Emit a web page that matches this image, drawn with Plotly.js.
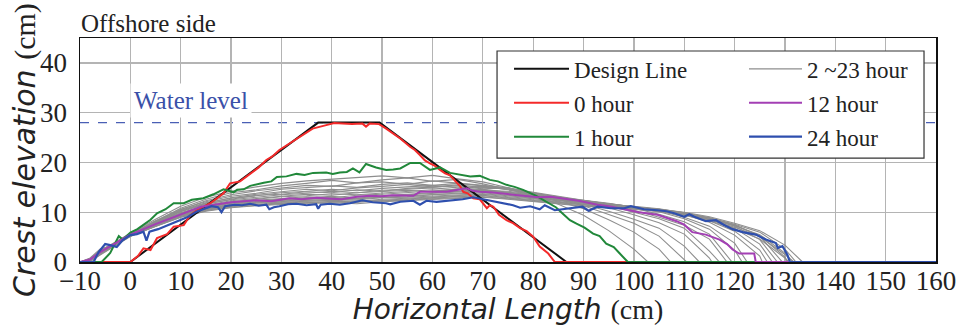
<!DOCTYPE html>
<html>
<head>
<meta charset="utf-8">
<script src="https://cdn.plot.ly/plotly-3.0.1.min.js"></script>
<style>html,body{margin:0;padding:0;background:#fff;}#chart{width:961px;height:326px;}</style>
</head>
<body>
<div id="chart"></div>
<script>
// ---------------- DATA ----------------
const WATER_LEVEL = 28;
const X_RANGE = [-10, 160];
const Y_RANGE = [0, 45];

const designX = [-10, 0, 37.3, 49.5, 86.6, 160];
const designY = [0, 0, 28, 28, 0, 0];

// 0 hour (x, y)
const hour0 = [[-10,0],[-6,0],[0,0],[1.5,1.2],[2.6,2.75],[4,2.4],[5.3,4.8],[7.3,5.6],[8.6,7.1],[10.6,7.4],[11.9,9.4],[13.2,10.4],[15.9,11.8],[18.5,13.8],[19.8,15.8],[21.8,16.2],[22.8,17.0],[24.4,18.1],[25.5,19.0],[27,20.5],[28.2,21.2],[29.6,22.5],[31.6,23.8],[33,24.6],[34.3,25.5],[35.2,26.2],[36.2,26.8],[38.9,27.5],[40.5,27.9],[42.2,27.8],[44,27.7],[46.1,27.8],[46.8,27.2],[47.5,27.8],[49.4,27.7],[50.8,26.8],[51.6,26.2],[53.6,24.8],[55.6,23.1],[56.5,22.5],[57.5,21.5],[58.5,20.4],[59.5,19.8],[60.5,19.3],[61.5,18.5],[62.5,17.8],[63.5,17.4],[64.8,15.9],[65.5,15.2],[66.1,14.1],[67,13.8],[68.1,12.8],[69.4,12.6],[70.8,10.8],[71.4,11.4],[72.1,11.1],[73.2,9.5],[74.7,8.4],[76,7.8],[77.4,6.8],[78.7,6.2],[80,5.1],[81.3,3.1],[83,1.7],[84.3,0],[160,0]];

// 1 hour
const hour1 = [[-10,0],[-5.7,0],[-4,1.8],[-2.3,5.2],[-1.5,4.5],[0,5.9],[1.4,6.6],[2.7,7.6],[4,8.5],[5.3,9.8],[7,10.6],[8.6,11.8],[10.6,11.8],[12.2,12.5],[14.5,12.8],[16.5,13.6],[18.5,14.6],[20.5,14],[21.2,14.5],[22.5,14.6],[23.8,15.3],[26.5,15.9],[28,16.2],[29.1,17.1],[31,17.2],[33,17.7],[34.6,17.5],[36.3,17.9],[38.9,18],[40.2,17.7],[41.6,18],[43,18.1],[44.2,18.8],[45.5,18],[46.8,19.7],[48.8,19],[50.8,18.5],[52.2,18.6],[53.6,18.8],[55.6,19.9],[57.5,19.9],[59.5,18.5],[61.5,19],[63.5,17.9],[65.5,17.5],[67.5,17.2],[69.4,17.3],[71.4,16.5],[73,16.2],[74.7,15.5],[76.3,15.1],[78,14.5],[80.6,13.3],[82.5,12.2],[84.5,11],[86,9.6],[87.3,8.4],[88.6,7.7],[90.2,6.9],[91.9,5.7],[93.2,5.2],[94.5,3.7],[96,3.0],[97.2,1.7],[98.8,0],[160,0]];

// 12 hour
const hour12 = [[-10,0],[-8,0.5],[-6,2.0],[-4,3.2],[-2,4.3],[0,5.5],[5,7.6],[10,9.6],[14,11.1],[20,12.0],[25,12.4],[28,12.2],[31.6,12.8],[34,12.6],[37,12.9],[40,12.7],[42,12.6],[45,13.1],[47.5,13.3],[50,13.2],[52,13.4],[56.2,13.3],[57.5,14.1],[59,14.1],[62.8,14.1],[64.5,14.4],[66.8,14.8],[68,14.3],[69.4,14.1],[71.5,14.0],[73.4,13.8],[77.4,13.5],[81,13.0],[83.5,13.1],[86,12.8],[89,12.3],[92.8,11.5],[95,11.2],[98.1,10.6],[101,10.0],[104.7,9.5],[107,8.7],[108.5,8.2],[110,7.5],[111.6,6],[114.3,5.5],[117,4.5],[118.5,3.6],[119.6,2.5],[120.9,1.7],[123.9,1.7],[124.2,0],[160,0]];

// 24 hour
const hour24 = [[-10,0],[-7.3,0],[-6.3,2],[-5,3.6],[-4,3.4],[-2.7,3],[-1.5,4.4],[0,5.4],[1.3,5.6],[2.6,6.1],[3.2,4.3],[3.8,6.1],[5.5,6.6],[6.9,7.2],[8.2,7.6],[9.5,8.3],[11.5,9.1],[13.1,10.1],[14.5,10.6],[16.1,11.2],[17.4,11.0],[18.1,10],[18.8,11.2],[20.7,11.5],[22.2,11.4],[23.8,11.7],[25.5,11.3],[27,11.5],[27.6,10.6],[28.5,11.0],[29.6,11.2],[31.3,11.6],[33,11.7],[35,11.4],[36.9,11.6],[37.3,10.7],[37.8,11.5],[39.6,11.7],[41.6,11.5],[43.6,11.8],[46.1,12.4],[48.1,12],[50.8,11.8],[51.6,11.6],[53.6,12.1],[56.2,12.3],[57.5,11.5],[58.8,12.3],[60.8,12.1],[62.8,12.3],[64.5,12.4],[66,12.6],[68.1,13],[70.1,12.6],[72.8,12],[74.5,11.8],[76,11.4],[77.4,10.9],[79.4,11.2],[81.3,10.6],[82.3,11.4],[84.3,10.4],[86,10.6],[87.8,10.8],[89.8,11.1],[91,10.3],[92.8,11.1],[95.4,10.8],[98.1,10.8],[99.4,11.2],[102,10.6],[104.7,10.4],[106.5,10.2],[108,9.8],[110,9.1],[111,9.6],[112,9.1],[114.3,8.2],[116.3,8.4],[118,7.4],[119.6,6.6],[121.6,6],[124.2,5.5],[126.2,4.5],[128.2,3.8],[128.6,2.8],[129.5,3.2],[130.5,1.4],[131,0],[160,0]];

// 2 ~ 23 hour profiles, read on a common x grid up to each profile's toe
const grayGrid = [-10,-8,-6,-4,-2,0,5,10,15,20,25,30,35,40,45,50,55,60,65,70,75,80,85,90,95,100,105,110,115,120,125,130];
const h02 = [0,0.4,2.2,3.4,4.6,5.8,8.6,11.2,13.0,14.2,15.1,15.8,16.3,16.6,16.9,17.3,16.9,17.4,16.7,16.1,14.9,13.5,11.6,9.4,6.3,2.6];
const h03 = [0,0.8,2.6,3.2,4.4,5.6,8.2,10.8,12.6,13.9,14.5,15.3,15.8,16.4,15.9,16.5,16.9,16.2,16.6,15.7,14.6,13.4,12.2,10.7,8.5,6.0,2.6];
const h04 = [0,0.2,1.8,3.0,4.2,5.5,8.0,10.5,12.3,13.5,14.3,14.8,15.4,15.2,15.9,16.1,15.6,16.3,15.9,15.4,14.9,13.8,12.6,11.3,9.6,7.8,5.2,0.6];
const h05 = [0,0.5,2.0,3.3,4.5,5.7,8.3,10.6,12.1,13.2,13.8,14.6,14.9,15.3,15.0,15.6,15.9,15.4,15.8,15.3,14.6,13.6,12.7,11.6,10.2,8.6,6.8,3.2];
const h06 = [0,0.3,1.6,2.8,4.0,5.3,7.8,10.2,11.8,12.9,13.6,14.1,14.6,14.3,14.9,15.2,15.6,15.1,15.5,15.0,14.7,13.9,12.9,12.0,10.9,9.5,7.9,5.6,0.8];
const h07 = [0,0.6,2.1,3.1,4.3,5.5,8.1,10.4,11.9,12.8,13.3,13.9,14.2,14.6,14.3,14.8,15.1,15.4,14.9,15.2,14.5,13.8,13.1,12.2,11.3,10.0,8.7,6.8,2.2];
const h08 = [0,0.2,1.7,2.9,4.1,5.4,7.9,10.1,11.6,12.6,13.4,13.6,14.1,13.9,14.5,14.2,14.8,15.0,15.3,14.7,14.9,14.0,13.2,12.4,11.6,10.4,9.0,7.4,4.6];
const h09 = [0,0.7,2.3,3.4,4.5,5.6,8.2,10.3,11.7,12.5,13.0,13.5,13.8,14.2,13.9,14.4,14.6,14.9,14.5,15.1,14.6,13.9,13.0,12.3,11.7,10.8,9.6,8.1,5.6];
const h10 = [0,0.4,1.9,3.0,4.2,5.5,7.9,9.9,11.4,12.3,12.8,13.2,13.6,13.4,13.9,14.1,14.4,14.1,14.7,14.4,14.2,13.6,13.0,12.5,11.8,11.0,10.1,8.7,6.6,2.4];
const h11 = [0,0.1,1.5,2.7,3.9,5.2,7.6,9.8,11.2,12.1,12.6,13.1,13.3,13.7,13.5,13.8,14.2,14.5,14.2,14.6,14.0,13.5,12.8,12.2,11.6,11.1,10.3,9.0,7.2,3.8];
const h13 = [0,0.5,2.0,3.1,4.2,5.4,7.7,9.6,11.0,11.9,12.4,12.8,13.1,12.9,13.4,13.6,13.9,14.2,14.6,14.3,14.0,13.4,12.7,12.3,11.7,11.2,10.5,9.5,8.0,5.4,1.2];
const h14 = [0,0.3,1.7,2.9,4.0,5.3,7.5,9.5,10.9,11.8,12.3,12.6,12.9,13.2,12.8,13.3,13.6,13.9,14.2,14.5,13.8,13.2,12.6,12.0,11.5,11.0,10.4,9.6,8.3,6.2,2.4];
const h15 = [0,0.6,2.2,3.2,4.3,5.5,7.7,9.7,11.0,11.8,12.2,12.5,12.8,12.6,13.1,13.2,13.5,13.8,14.0,14.3,13.9,13.3,12.5,12.1,11.7,11.1,10.6,9.8,8.6,6.8,3.6];
const h16 = [0,0.2,1.6,2.8,3.9,5.2,7.4,9.4,10.8,11.6,12.1,12.4,12.6,12.9,12.7,13.0,13.3,13.6,13.9,14.1,13.6,13.0,12.4,11.9,11.5,11.2,10.7,9.9,8.8,7.2,4.5];
const h17 = [0,0.4,1.9,3.0,4.1,5.3,7.5,9.4,10.7,11.5,12.0,12.3,12.5,12.4,12.8,13.0,13.1,13.5,13.7,13.9,13.4,12.9,12.3,11.8,11.4,11.0,10.6,9.9,8.9,7.5,5.2];
const h18 = [0,0.1,1.4,2.6,3.8,5.1,7.2,9.2,10.6,11.4,11.9,12.1,12.4,12.6,12.5,12.9,13.0,13.2,13.5,13.7,13.3,12.8,12.2,11.7,11.3,10.9,10.4,9.8,8.8,7.4,5.3,1.0];
const h19 = [0,0.5,2.0,3.1,4.2,5.4,7.4,9.3,10.6,11.3,11.8,12.0,12.2,12.4,12.2,12.6,12.8,13.1,13.3,13.6,13.1,12.7,12.1,11.6,11.2,10.9,10.5,9.7,8.6,7.3,5.5,1.8];
const h20 = [0,0.3,1.8,3.0,4.1,5.3,7.3,9.2,10.5,11.2,11.6,11.9,12.1,12.0,12.3,12.4,12.7,12.9,13.2,13.4,13.0,12.5,12.0,11.5,11.2,10.8,10.4,9.8,8.9,7.6,6.0,2.6];
const h21 = [0,0.6,2.1,3.2,4.3,5.5,7.4,9.2,10.4,11.1,11.5,11.8,11.9,12.2,12.0,12.3,12.5,12.8,13.1,13.3,12.8,12.4,11.9,11.5,11.1,10.9,10.6,10.0,9.1,7.8,6.3,3.4];
const h22 = [0,0.2,1.7,2.8,4.0,5.2,7.2,9.0,10.3,11.0,11.4,11.7,11.9,11.8,12.1,12.2,12.4,12.7,12.9,13.1,12.7,12.2,11.7,11.3,11.0,10.7,10.2,9.5,8.5,7.0,5.1,1.5];
const h23 = [0,0.4,1.8,2.9,4.1,5.3,7.2,9.0,10.2,10.9,11.3,11.6,11.8,11.9,11.7,12.1,12.3,12.6,12.8,13.0,12.6,12.1,11.6,11.2,10.9,10.6,10.1,9.4,8.3,6.7,4.6,0.8];
const grayToes = [102.8,107.3,110.5,113,115.5,117,118.5,119.5,121.5,122.5,125.5,126.5,127.5,128.5,129.5,130.5,131.5,132.2,133.5,131.8,130.8];
const grayProfiles = [h02,h03,h04,h05,h06,h07,h08,h09,h10,h11,h13,h14,h15,h16,h17,h18,h19,h20,h21,h22,h23];

// ---------------- STYLE ----------------
const SERIF = 'Liberation Serif';
const SANS = 'DejaVu Sans';
const C = {design:'#111111', h0:'#f42a2a', h1:'#21883a', gray:'#8e8e8e', h12:'#a33fb4', h24:'#2e4fae', water:'#4a5fb5'};

const traces = [];
grayProfiles.forEach((ys, i) => {
  const xs = grayGrid.slice(0, ys.length).concat([grayToes[i], X_RANGE[1]]);
  traces.push({
    x: xs, y: ys.concat([0, 0]), type: 'scatter', mode: 'lines',
    line: {color: C.gray, width: 1.1},
    name: '2 ~23 hour', legend: 'legend2', legendgroup: 'g', legendrank: 1,
    showlegend: i === 0, hoverinfo: 'skip'
  });
});
function pts(arr, k) { return arr.map(p => p[k]); }
traces.push({x: designX, y: designY, type:'scatter', mode:'lines', line:{color:C.design, width:2},
  name:'Design Line', legend:'legend', legendgroup:'d', legendrank:1});
traces.push({x: pts(hour0,0), y: pts(hour0,1), type:'scatter', mode:'lines', line:{color:C.h0, width:2},
  name:'0 hour', legend:'legend', legendgroup:'a', legendrank:2});
traces.push({x: pts(hour1,0), y: pts(hour1,1), type:'scatter', mode:'lines', line:{color:C.h1, width:2},
  name:'1 hour', legend:'legend', legendgroup:'b', legendrank:3});
traces.push({x: pts(hour12,0), y: pts(hour12,1), type:'scatter', mode:'lines', line:{color:C.h12, width:2},
  name:'12 hour', legend:'legend2', legendgroup:'m', legendrank:2});
traces.push({x: pts(hour24,0), y: pts(hour24,1), type:'scatter', mode:'lines', line:{color:C.h24, width:2.2},
  name:'24 hour', legend:'legend2', legendgroup:'bl', legendrank:3});

const legendCommon = {
  bgcolor:'rgba(0,0,0,0)', borderwidth:0, yanchor:'top', xanchor:'left',
  font:{family:SERIF, size:23, color:'#222'}, tracegroupgap:1, itemclick:false, itemdoubleclick:false
};

const layout = {
  width:961, height:326,
  margin:{l:80, r:25, t:38, b:64},
  paper_bgcolor:'#fff', plot_bgcolor:'#fff',
  showlegend:true,
  xaxis:{
    range:X_RANGE, dtick:10, tick0:0, showgrid:true, gridcolor:'#b4b4b4', gridwidth:1.3,
    showline:true, linecolor:'#111', linewidth:1.5, mirror:true, zeroline:false, ticks:'',
    ticklabelstandoff:-6,
    tickfont:{family:SERIF, size:27, color:'#222'},
    title:{text:'<i>Horizontal Length</i> <span style="font-family:Liberation Serif">(cm)</span>',
      font:{family:SANS, size:28, color:'#222'}, standoff:0}
  },
  yaxis:{
    range:Y_RANGE, dtick:10, tick0:0, showgrid:true, gridcolor:'#b4b4b4', gridwidth:1.3,
    showline:true, linecolor:'#111', linewidth:1.5, mirror:true, zeroline:false, ticks:'',
    ticklabelstandoff:6,
    tickfont:{family:SERIF, size:27, color:'#222'},
    title:{text:''}
  },
  legend: Object.assign({}, legendCommon, {x:0.5012, y:0.958, itemwidth:55}),
  legend2: Object.assign({}, legendCommon, {x:0.7757, y:0.958, itemwidth:53}),
  shapes:[
    {type:'line', xref:'x', yref:'y', x0:X_RANGE[0], x1:X_RANGE[1], y0:WATER_LEVEL, y1:WATER_LEVEL,
      line:{color:C.water, width:1.3, dash:'dash'}, layer:'below'},
    {type:'rect', xref:'paper', yref:'paper', x0:0.4872, x1:0.986, y0:0.464, y1:0.942,
      fillcolor:'#ffffff', line:{color:'#333', width:1.2}, layer:'above'}
  ],
  annotations:[
    {text:'<i>Crest elevation</i> <span style="font-family:Liberation Serif">(cm)</span>',
      xref:'paper', yref:'paper', x:-0.0655, y:0.5, xanchor:'center', yanchor:'middle', textangle:-90,
      showarrow:false, font:{family:SANS, size:30, color:'#222'}},
    {text:'Offshore side', xref:'paper', yref:'paper', x:0, y:1, xanchor:'left', yanchor:'bottom',
      showarrow:false, font:{family:SERIF, size:25, color:'#222'}, borderpad:0},
    {text:'Water level', xref:'x', yref:'y', x:12.1, y:32.5, xanchor:'center', yanchor:'middle',
      showarrow:false, bgcolor:'#ffffff', borderpad:3, font:{family:SERIF, size:25, color:'#3a50a8'}}
  ]
};

Plotly.newPlot('chart', traces, layout, {staticPlot:true, displayModeBar:false});
</script>
</body>
</html>
